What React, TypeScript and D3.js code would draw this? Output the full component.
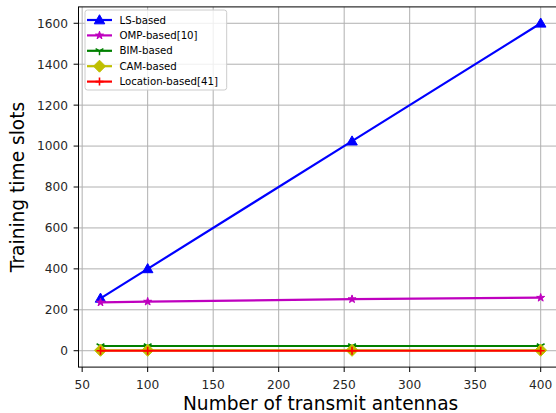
import React from "react";
import * as d3 from "d3";

const antennas = [64, 100, 256, 400];
const lsBased = [256, 400, 1024, 1600];
const ompBased = [236, 240, 252, 259];
const bimBased = [23, 23, 23, 23];
const camBased = [2, 2, 2, 2];
const locationBased = [0, 0, 0, 0];
const xTicks = [50, 100, 150, 200, 250, 300, 350, 400];
const yTicks = [0, 200, 400, 600, 800, 1000, 1200, 1400, 1600];

const seriesNames = ["LS-based", "OMP-based[10]", "BIM-based", "CAM-based", "Location-based[41]"];
const seriesValues = [lsBased, ompBased, bimBased, camBased, locationBased];
const seriesColors = ["#0000ff", "#bf00bf", "#008000", "#bfbf00", "#ff0000"];
const seriesMarkers = ["triangle", "star", "tri", "diamond", "plus"];

const W = 556, H = 413;
const L = 78.5, R = 562.7, T = 6.9, B = 367.1;

function Marker({ kind, x, y, color }: { kind: string; x: number; y: number; color: string }) {
  if (kind === "triangle") {
    const p = d3.symbol(d3.symbolTriangle, 48)();
    return <path d={p || ""} transform={`translate(${x},${y + 0.8})`} fill={color} stroke={color} strokeWidth={1} />;
  }
  if (kind === "star") {
    const p = d3.symbol(d3.symbolStar, 20)();
    return <path d={p || ""} transform={`translate(${x},${y})`} fill={color} stroke={color} strokeWidth={1} />;
  }
  if (kind === "diamond") {
    const r = 6;
    return <path d={`M${x},${y - r}L${x + r},${y}L${x},${y + r}L${x - r},${y}Z`} fill={color} stroke={color} strokeWidth={1} />;
  }
  if (kind === "plus") {
    const r = 4;
    return <path d={`M${x - r},${y}H${x + r}M${x},${y - r}V${y + r}`} stroke={color} strokeWidth={1.6} fill="none" />;
  }
  const r = 4.5;
  return (
    <path
      d={`M${x},${y}V${y + r}M${x},${y}L${x - r * 0.866},${y - r / 2}M${x},${y}L${x + r * 0.866},${y - r / 2}`}
      stroke={color}
      strokeWidth={1.5}
      fill="none"
    />
  );
}

export default function App() {
  const x = d3.scaleLinear().domain([47.2, 416.8]).range([L, R]);
  const y = d3.scaleLinear().domain([-80, 1680]).range([B, T]);
  const line = d3
    .line<[number, number]>()
    .x((d) => x(d[0]))
    .y((d) => y(d[1]));
  const font = "DejaVu Sans, sans-serif";

  return (
    <svg
      width={W}
      height={H}
      style={{ position: "absolute", left: 0, top: 0, background: "#fff" }}
      fontFamily={font}
    >
      <rect x={0} y={0} width={W} height={H} fill="#fff" />
      {xTicks.map((t) => (
        <line key={"gx" + t} x1={x(t)} x2={x(t)} y1={T} y2={B} stroke="#b0b0b0" strokeWidth={1} />
      ))}
      {yTicks.map((t) => (
        <line key={"gy" + t} x1={L} x2={R} y1={y(t)} y2={y(t)} stroke="#b0b0b0" strokeWidth={1} />
      ))}
      {seriesValues.map((vals, i) => (
        <g key={"s" + i}>
          <path
            d={line(antennas.map((a, j) => [a, vals[j]] as [number, number])) || ""}
            fill="none"
            stroke={seriesColors[i]}
            strokeWidth={2.2}
          />
          {antennas.map((a, j) => (
            <Marker key={j} kind={seriesMarkers[i]} x={x(a)} y={y(vals[j])} color={seriesColors[i]} />
          ))}
        </g>
      ))}
      <rect x={L} y={T} width={R - L} height={B - T} fill="none" stroke="#000" strokeWidth={1} />
      {xTicks.map((t) => (
        <g key={"tx" + t}>
          <line x1={x(t)} x2={x(t)} y1={B} y2={B + 4.9} stroke="#000" strokeWidth={1} />
          <text x={x(t)} y={B + 21.5} textAnchor="middle" fontSize={12.2} fill="#262626">
            {t}
          </text>
        </g>
      ))}
      {yTicks.map((t) => (
        <g key={"ty" + t}>
          <line x1={L - 4.9} x2={L} y1={y(t)} y2={y(t)} stroke="#000" strokeWidth={1} />
          <text x={L - 10.5} y={y(t)} dy="0.36em" textAnchor="end" fontSize={12.2} fill="#262626">
            {t}
          </text>
        </g>
      ))}
      <text x={(L + R) / 2} y={410} textAnchor="middle" fontSize={18.6} fill="#000">
        Number of transmit antennas
      </text>
      <text
        transform={`translate(24,${(T + B) / 2}) rotate(-90)`}
        textAnchor="middle"
        fontSize={18.6}
        fill="#000"
      >
        Training time slots
      </text>
      <g>
        <rect x={85} y={10} width={141.7} height={80} rx={2.5} fill="#fff" fillOpacity={0.8} stroke="#cccccc" strokeWidth={1} />
        {seriesNames.map((n, i) => {
          const ly = 20 + i * 15.4;
          return (
            <g key={"lg" + i}>
              <line x1={87} x2={112} y1={ly} y2={ly} stroke={seriesColors[i]} strokeWidth={2.2} />
              <Marker kind={seriesMarkers[i]} x={99.5} y={ly} color={seriesColors[i]} />
              <text x={119.5} y={ly} dy="0.36em" fontSize={10.2} fill="#000">
                {n}
              </text>
            </g>
          );
        })}
      </g>
    </svg>
  );
}
